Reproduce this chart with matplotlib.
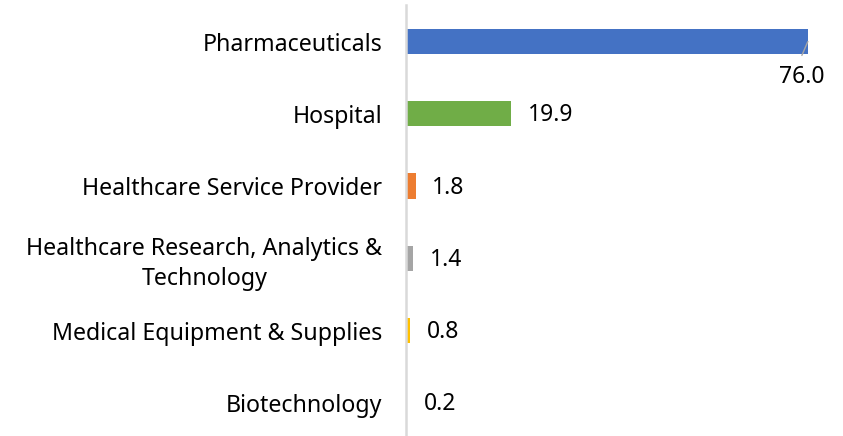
import matplotlib
matplotlib.use('Agg')
import matplotlib.pyplot as plt

plt.rcParams['font.family'] = ['Noto Sans', 'DejaVu Sans']

# Категорії та значення
categories = ['Pharmaceuticals', 'Hospital', 'Healthcare Service Provider',
              'Healthcare Research, Analytics &\nTechnology',
              'Medical Equipment & Supplies', 'Biotechnology']
values = [76.0, 19.9, 1.8, 1.4, 0.8, 0.2]
colors = ['#4472C4', '#70AD47', '#ED7D31', '#A5A5A5', '#FFC000', '#5B9BD5']

fig = plt.figure(figsize=(8.43, 4.36), dpi=100)
ax = fig.add_axes([406 / 843, 0.0, (829 - 406) / 843, 1 - 5 / 436])

pos = list(range(len(categories)))
ax.barh(pos, values, height=0.35, color=colors, zorder=2)
ax.set_xlim(0, 80)
ax.set_ylim(5.456, -0.505)

ax.set_yticks(pos)
ax.set_yticklabels(categories, fontsize=16.7, color='#000000',
                   ha='right', multialignment='center', linespacing=1.3)
ax.tick_params(axis='y', length=0, pad=17)
ax.set_xticks([])
for s in ['top', 'right', 'bottom']:
    ax.spines[s].set_visible(False)
ax.spines['left'].set_color('#D9D9D9')
ax.spines['left'].set_linewidth(1.8)
ax.spines['left'].set_zorder(3)

# Підписи значень
for i, v in enumerate(values):
    if i == 0:
        # виноска під кінцем смуги
        ax.annotate('', xy=(v, i), xytext=(-4.3, -10), textcoords='offset points',
                    arrowprops=dict(arrowstyle='-', color='#A5A5A5', lw=1,
                                    shrinkA=0, shrinkB=0))
        ax.annotate(f'{v:.1f}', xy=(v, i), xytext=(-4.3, -25.6), textcoords='offset points',
                    ha='center', va='center', fontsize=16.5)
    else:
        ax.annotate(f'{v:.1f}', xy=(v, i), xytext=(12, -1), textcoords='offset points',
                    ha='left', va='center', fontsize=16.5)

fig.savefig('out.png', dpi=100)
